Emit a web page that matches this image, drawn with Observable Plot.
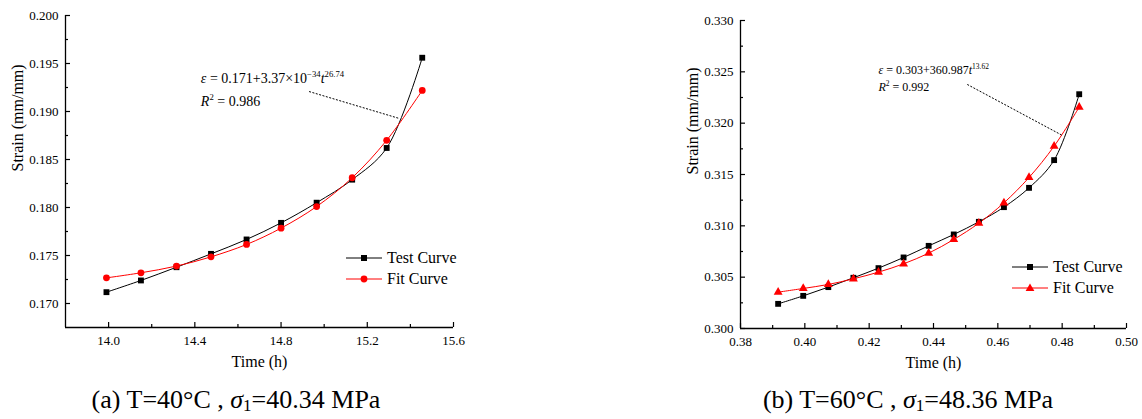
<!DOCTYPE html>
<html>
<head>
<meta charset="utf-8">
<script src="https://cdn.jsdelivr.net/npm/d3@7"></script>
<script src="https://cdn.jsdelivr.net/npm/@observablehq/plot@0.6"></script>
<style>
  html, body { margin: 0; padding: 0; background: #fff; }
  body { width: 1142px; height: 419px; position: relative; overflow: hidden; font-family: "Liberation Serif", "Times New Roman", serif; color: #000; }
  .panel { position: absolute; top: 0; }
  .caption { position: absolute; top: 384px; font-size: 26px; white-space: nowrap; transform: translateX(-50%); line-height: 32px; }
  .caption sub { font-size: 17px; vertical-align: -3px; line-height: 0; }
  .legend { position: absolute; font-size: 16px; white-space: nowrap; }
  .legend .row { position: absolute; left: 0; height: 20px; display: flex; align-items: center; }
  .legend svg { display: block; margin-right: 5px; }
</style>
</head>
<body>
<div id="pa" class="panel" style="left:0px"></div>
<div id="pb" class="panel" style="left:640px"></div>
<div id="la" class="legend" style="left:346px; top:248px"></div>
<div id="lb" class="legend" style="left:1012px; top:257px"></div>
<div class="caption" style="left:236px">(a) T=40°C , <i>σ</i><sub>1</sub>=40.34 MPa</div>
<div class="caption" style="left:908px">(b) T=60°C , <i>σ</i><sub>1</sub>=48.36 MPa</div>
<script>
// ---------- Panel (a) data ----------
const timeA = [13.99, 14.15, 14.315, 14.475, 14.64, 14.80, 14.965, 15.13, 15.29, 15.455];
const testA = [0.17118, 0.17240, 0.17378, 0.17517, 0.17667, 0.17840, 0.18050, 0.18290, 0.18620, 0.19560];
const fitA  = [0.17267, 0.17320, 0.17390, 0.17486, 0.17615, 0.17785, 0.18010, 0.18310, 0.18700, 0.19220];
const xTicksA = [14.0, 14.4, 14.8, 15.2, 15.6];
const xMinorA = [14.2, 14.6, 15.0, 15.4];
const yTicksA = [0.170, 0.175, 0.180, 0.185, 0.190, 0.195, 0.200];
const yMinorA = [0.1725, 0.1775, 0.1825, 0.1875, 0.1925, 0.1975];
const eqA = [["ε", "i"], [" = 0.171+3.37×10", ""], ["−34", "sup"], ["t", "i"], ["26.74", "sup"]];
const r2A = [["R", "i"], ["2", "sup"], [" = 0.986", ""]];
const noteA = {tx: 14.428, ty1: 0.19344, ty2: 0.19104, x1: 14.930, y1: 0.19208, x2: 15.349, y2: 0.18927};

// ---------- Panel (b) data ----------
const timeB = [0.3917, 0.3995, 0.4073, 0.4151, 0.4229, 0.4307, 0.4385, 0.4463, 0.4541, 0.4619, 0.4697, 0.4775, 0.4853];
const testB = [0.30240, 0.30318, 0.30403, 0.30494, 0.30588, 0.30692, 0.30805, 0.30916, 0.31039, 0.31182, 0.31370, 0.31640, 0.32282];
const fitB  = [0.30354, 0.30390, 0.30429, 0.30484, 0.30549, 0.30630, 0.30734, 0.30867, 0.31026, 0.31224, 0.31471, 0.31776, 0.32156];
const xTicksB = [0.38, 0.40, 0.42, 0.44, 0.46, 0.48, 0.50];
const xMinorB = [0.39, 0.41, 0.43, 0.45, 0.47, 0.49];
const yTicksB = [0.300, 0.305, 0.310, 0.315, 0.320, 0.325, 0.330];
const yMinorB = [0.3025, 0.3075, 0.3125, 0.3175, 0.3225, 0.3275];
const eqB = [["ε", "i"], [" = 0.303+360.987", ""], ["t", "i"], ["13.62", "sup"]];
const r2B = [["R", "i"], ["2", "sup"], [" = 0.992", ""]];
const noteB = {tx: 0.4229, ty1: 0.32513, ty2: 0.32347, x1: 0.4505, y1: 0.32377, x2: 0.4801, y2: 0.3188};

const seriesNames = ["Test Curve", "Fit Curve"];

const plain = segs => segs.map(s => s[0]).join("");

function rich(svg, segsList, base) {
  const ns = "http://www.w3.org/2000/svg";
  svg.querySelectorAll("text").forEach(t => {
    for (const segs of segsList) {
      if (t.textContent === plain(segs)) {
        t.textContent = "";
        let up = false;
        const shift = base * 0.42;
        for (const [s, st] of segs) {
          const ts = document.createElementNS(ns, "tspan");
          ts.textContent = s;
          if (st === "i") ts.setAttribute("font-style", "italic");
          if (st === "sup") {
            ts.setAttribute("font-size", (base * 0.62) + "px");
            if (!up) { ts.setAttribute("dy", -shift); up = true; }
          } else if (up) { ts.setAttribute("dy", shift); up = false; }
          t.appendChild(ts);
        }
      }
    }
  });
}

function panel({time, test, fit, xDomain, yDomain, xTicks, xMinor, yTicks, yMinor, xFmt, fitSymbol, fitR, eq, r2, note, eqSize,
                width, height, ml, mr, mt, mb}) {
  const iw = width - ml - mr, ih = height - mt - mb;
  const testData = time.map((t, i) => ({t, v: test[i]}));
  const fitData = time.map((t, i) => ({t, v: fit[i]}));
  const svg = Plot.plot({
    width, height, marginLeft: ml, marginRight: mr, marginTop: mt, marginBottom: mb,
    x: {domain: xDomain},
    y: {domain: yDomain},
    style: {fontFamily: "'Liberation Serif', 'Times New Roman', serif", fontSize: "13px", color: "#000", background: "transparent", overflow: "visible"},
    marks: [
      Plot.axisX({ticks: xTicks, tickSize: 0, tickPadding: 8, tickFormat: xFmt, label: null, fontSize: 13}),
      Plot.axisY({ticks: yTicks, tickSize: 0, tickPadding: 7, tickFormat: d => d.toFixed(3), label: null, fontSize: 13}),
      Plot.ruleX(xTicks, {x: d => d, insetTop: ih - 5, stroke: "#000", strokeWidth: 1.2}),
      Plot.ruleX(xMinor, {x: d => d, insetTop: ih - 3, stroke: "#000", strokeWidth: 1.2}),
      Plot.ruleY(yTicks, {y: d => d, insetRight: iw - 5, stroke: "#000", strokeWidth: 1.2}),
      Plot.ruleY(yMinor, {y: d => d, insetRight: iw - 3, stroke: "#000", strokeWidth: 1.2}),
      Plot.ruleX([xDomain[0]], {stroke: "#000", strokeWidth: 1.3}),
      Plot.ruleY([yDomain[0]], {stroke: "#000", strokeWidth: 1.3}),
      Plot.text(["Strain (mm/mm)"], {frameAnchor: "left", dx: -48, rotate: -90, fontSize: 16, text: d => d}),
      Plot.text(["Time (h)"], {frameAnchor: "bottom", dy: 39, fontSize: 16, text: d => d}),
      Plot.line(testData, {x: "t", y: "v", stroke: "#000", strokeWidth: 1, curve: "catmull-rom"}),
      Plot.line(fitData, {x: "t", y: "v", stroke: "#ff0000", strokeWidth: 1, curve: "catmull-rom"}),
      Plot.dot(testData, {x: "t", y: "v", symbol: "square", fill: "#000", r: 3.3}),
      Plot.dot(fitData, {x: "t", y: "v", symbol: fitSymbol, fill: "#ff0000", r: fitR}),
      Plot.link([note], {x1: "x1", y1: "y1", x2: "x2", y2: "y2", stroke: "#000", strokeWidth: 1, strokeDasharray: "2,1.5"}),
      Plot.text([note], {x: "tx", y: "ty1", text: () => plain(eq), textAnchor: "start", fontSize: eqSize}),
      Plot.text([note], {x: "tx", y: "ty2", text: () => plain(r2), textAnchor: "start", fontSize: eqSize})
    ]
  });
  rich(svg, [eq, r2], eqSize);
  return svg;
}

document.getElementById("pa").appendChild(panel({
  time: timeA, test: testA, fit: fitA, xDomain: [13.8, 15.6], yDomain: [0.1675, 0.200],
  xTicks: xTicksA, xMinor: xMinorA, yTicks: yTicksA, yMinor: yMinorA, xFmt: d => d.toFixed(1),
  fitSymbol: "circle", fitR: 3.4, eq: eqA, r2: r2A, note: noteA, eqSize: 14,
  width: 480, height: 380, ml: 65, mr: 27, mt: 15, mb: 53
}));
document.getElementById("pb").appendChild(panel({
  time: timeB, test: testB, fit: fitB, xDomain: [0.38, 0.50], yDomain: [0.300, 0.330],
  xTicks: xTicksB, xMinor: xMinorB, yTicks: yTicksB, yMinor: yMinorB, xFmt: d => d.toFixed(2),
  fitSymbol: "triangle", fitR: 3.3, eq: eqB, r2: r2B, note: noteB, eqSize: 12,
  width: 502, height: 380, ml: 100, mr: 16, mt: 20, mb: 52
}));

function legend(id, fitShape) {
  const el = document.getElementById(id);
  const shapes = [
    `<rect x="15" y="7" width="6" height="6" fill="#000"/>`,
    fitShape
  ];
  const colors = ["#000", "#ff0000"];
  seriesNames.forEach((name, i) => {
    const row = document.createElement("div");
    row.className = "row";
    row.style.top = (i * 20.5) + "px";
    row.innerHTML = `<svg width="36" height="20"><line x1="0" x2="36" y1="10" y2="10" stroke="${colors[i]}" stroke-width="1"/>${shapes[i]}</svg><span>${name}</span>`;
    el.appendChild(row);
  });
}
legend("la", `<circle cx="18" cy="10" r="3.4" fill="#ff0000"/>`);
legend("lb", `<path d="M18,5.6L22.4,13L13.6,13Z" fill="#ff0000"/>`);
</script>
</body>
</html>
